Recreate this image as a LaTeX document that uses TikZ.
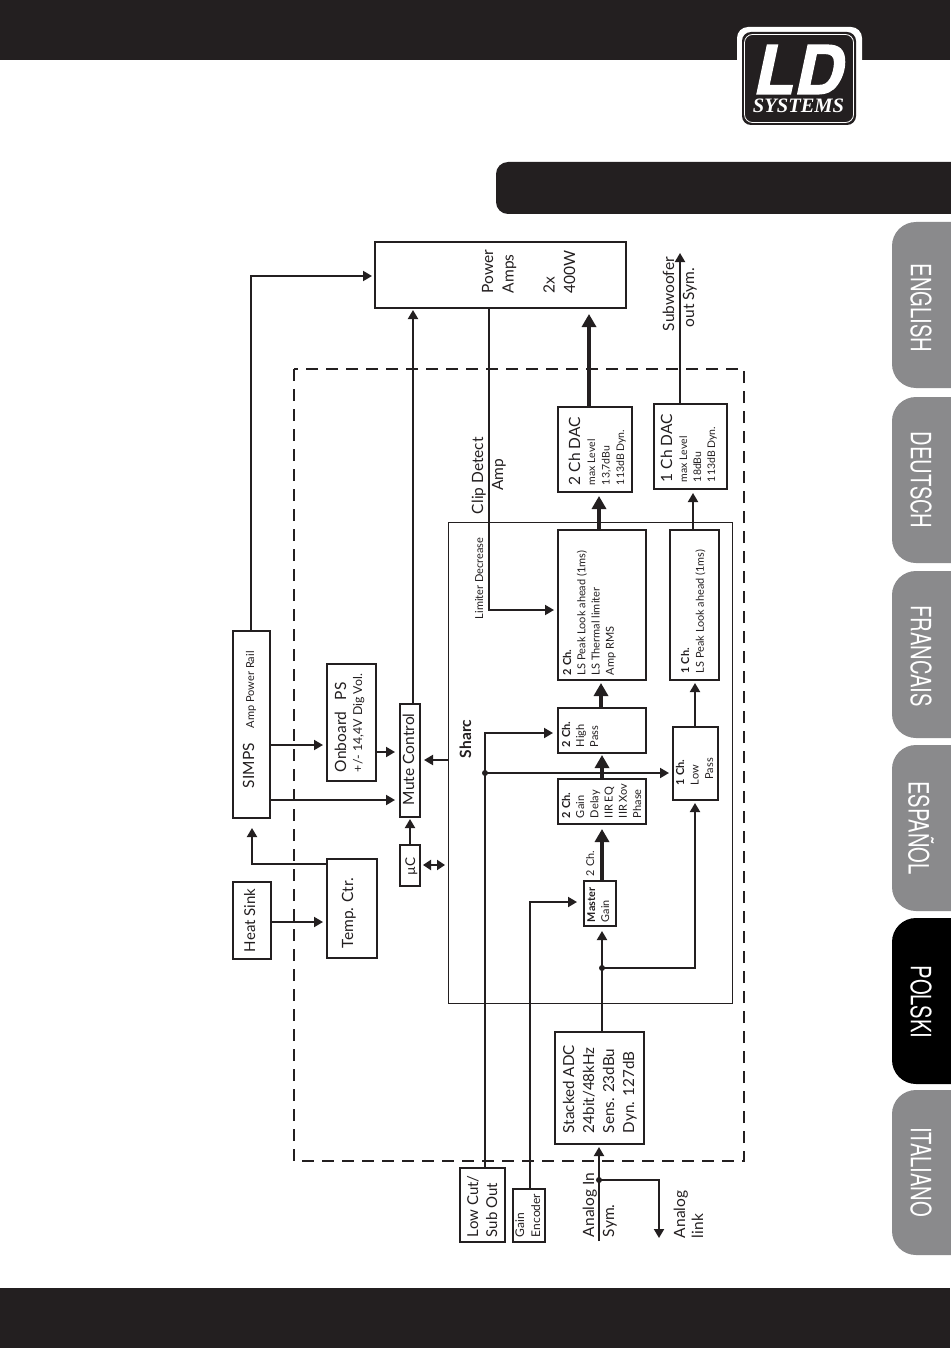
\documentclass[tikz,border=0pt]{standalone}
\usepackage{fontspec}
\setmainfont{Lato}
\newfontfamily\tabfont[FakeStretch=0.72]{TeX Gyre Heros}
\newfontfamily\logoLD[FakeBold=2]{TeX Gyre Heros}
\newfontfamily\logoSys{Liberation Serif}
\usetikzlibrary{arrows.meta}
\definecolor{ink}{HTML}{231F20}
\definecolor{tabgray}{HTML}{8A8A8C}
\tikzset{
  bx/.style={draw=ink,line width=2pt,inner sep=0pt,outer sep=0pt,fill=white},
  rtxt/.style={rotate=90,anchor=north west,inner sep=0pt,outer sep=0pt,align=left,text=ink},
  tabtxt/.style={rotate=-90,inner sep=0pt,text=white,font=\tabfont\fontsize{28}{28}\selectfont},
  conn/.style={draw=ink,line width=1.9pt,-{Triangle[length=9pt,width=10pt]}},
  fat/.style={draw=ink,line width=3.2pt,-{Triangle[length=13pt,width=14pt]}},
  plain/.style={draw=ink,line width=1.9pt},
  dotn/.style={circle,fill=ink,inner sep=0pt,minimum size=6pt},
  tabshape/.style={rounded corners=24pt,fill=tabgray}
}
\newcommand\bxn[5]{\node[bx,minimum width={(#4-#2)*1pt},minimum height={(#5-#3)*1pt}] (#1) at ({(#2+#4)/2},{(#3+#5)/2}) {};}
\newcommand\rt[6]{\node[rtxt,font=\fontsize{#4}{#5}\selectfont] (#1) at ({#2-#4},#3) {\rule{0pt}{#4pt}#6};}
\begin{document}
\begin{tikzpicture}[x=1pt,y=-1pt]
\useasboundingbox (0,0) rectangle (950,1348);
\fill[white] (0,0) rectangle (950,1348);
% bands
\fill[ink] (0,0) rectangle (950,60);
\fill[ink] (0,1288) rectangle (950,1348);
\fill[ink,rounded corners=12pt] (960,162) -- (496,162) -- (496,214) -- (960,214);
% logo
\fill[white,rounded corners=11pt] (737,27) rectangle (862,126);
\fill[ink,rounded corners=9pt] (742,32) rectangle (856,125);
\draw[white,line width=0.8pt,rounded corners=8pt] (744.5,34.5) rectangle (853.5,122.5);
\node[inner sep=0pt,text=white,font=\logoLD\bfseries\itshape\fontsize{67}{67}\selectfont] (logoa) at (799,69.5) {LD};
\node[inner sep=0pt,text=white,font=\logoSys\bfseries\itshape\fontsize{20.5}{20.5}\selectfont] (logob) at (798.5,106) {SYSTEMS};
% tabs
\path[tabshape] (960,222) -- (892,222) -- (892,388) -- (960,388);
\path[tabshape] (960,397) -- (892,397) -- (892,563) -- (960,563);
\path[tabshape] (960,571) -- (892,571) -- (892,738) -- (960,738);
\path[tabshape] (960,745) -- (892,745) -- (892,911) -- (960,911);
\path[tabshape,fill=black] (960,918) -- (892,918) -- (892,1084) -- (960,1084);
\path[tabshape] (960,1090) -- (892,1090) -- (892,1255) -- (960,1255);
\node[tabtxt] (tabEN) at (921,308) {ENGLISH};
\node[tabtxt] (tabDE) at (921,480) {DEUTSCH};
\node[tabtxt] (tabFR) at (921,656) {FRANCAIS};
\node[tabtxt] (tabES) at (921,828) {ESPAÑOL};
\node[tabtxt] (tabPL) at (921,1002) {POLSKI};
\node[tabtxt] (tabIT) at (921,1172) {ITALIANO};
% frames
\draw[ink,line width=2pt,dash pattern=on 12pt off 8pt] (294,369) rectangle (744,1161);
\node[draw=ink,line width=1pt,inner sep=0pt,outer sep=0pt,minimum width=284pt,minimum height=481pt] (sharc) at (590,762.5) {};
% boxes
\bxn{amps}{375}{242}{626}{308}
\bxn{dacb}{558}{407}{632}{492}
\bxn{daca}{654}{404}{727}{489}
\bxn{lsb}{558}{530}{646}{680}
\bxn{lsa}{670}{530}{719}{680}
\bxn{hp}{558}{708}{646}{753}
\bxn{lp}{673}{727}{718}{800}
\bxn{gainb}{558}{779}{646}{824}
\bxn{master}{584}{881}{616}{926}
\bxn{adc}{555}{1032}{644}{1144}
\bxn{lowcut}{460}{1168}{505}{1242}
\bxn{encoder}{513}{1189}{545}{1242}
\bxn{simps}{233}{631}{270}{818}
\bxn{onboard}{327}{664}{376}{781}
\bxn{mute}{400}{704}{420}{817}
\bxn{uc}{400}{845}{420}{886}
\bxn{temp}{327}{859}{377}{958}
\bxn{heat}{233}{882}{271}{959}
% junctions and free ends
\node[dotn] (jmaster) at (602,968) {};
\node[dotn] (jcut) at (485,773) {};
\node[dotn] (jin) at (599,1180) {};
\coordinate (subout) at (680,253);
\coordinate (linkout) at (659,1238);
\coordinate (inbot) at (599,1241);
% connectors
\draw[conn] (simps.north -| 251,0) -- (251,276) -- ([xshift=-3pt]amps.west |- 0,276);
\draw[conn,shorten >=2pt] (mute.north -| 413,0) -- (amps.south -| 413,0);
\draw[conn,shorten >=4pt] (amps.south -| 489,0) -- (489,610) -- (lsb.west |- 0,610);
\draw[fat,shorten >=6pt] (dacb.north -| 589,0) -- (amps.south -| 589,0);
\draw[conn] (daca.north -| 680,0) -- (subout);
\draw[fat,shorten >=4pt] (lsb.north -| 599,0) -- (dacb.south -| 599,0);
\draw[conn,shorten >=4pt] (lsa.north -| 693,0) -- (daca.south -| 693,0);
\draw[fat,shorten >=3pt] (hp.north -| 601,0) -- (lsb.south -| 601,0);
\draw[conn,shorten >=3pt] (lp.north -| 695,0) -- (lsa.south -| 695,0);
\draw[fat,shorten >=2pt] (gainb.north -| 602,0) -- (hp.south -| 602,0);
\draw[fat,shorten >=5pt] (master.north -| 602,0) -- (gainb.south -| 602,0);
\draw[conn,shorten >=5pt] (adc.north -| 602,0) -- (master.south -| 602,0);
\draw[conn,shorten >=3pt] (jmaster.center) -- (695,968) -- (lp.south -| 695,0);
\draw[conn,shorten >=5pt] (lowcut.north -| 485,0) -- (485,733) -- (hp.west |- 0,733);
\draw[conn,shorten >=4pt] (jcut.center) -- (lp.west |- 0,773);
\draw[conn,shorten >=7pt] (encoder.north -| 530,0) -- (530,902) -- (master.west |- 0,902);
\draw[conn,shorten >=3pt] (inbot) -- (adc.south -| 599,0);
\draw[conn] (jin.center) -- (659,1180) -- (linkout);
\draw[conn,shorten >=4pt] (simps.east |- 0,745) -- (onboard.west |- 0,745);
\draw[conn,shorten >=5pt] (simps.east |- 0,800) -- (mute.west |- 0,800);
\draw[conn,shorten >=5pt] (onboard.east |- 0,752) -- (mute.west |- 0,752);
\draw[conn,shorten >=4pt] (sharc.west |- 0,760) -- (mute.east |- 0,760);
\draw[conn,shorten >=2pt] (uc.north -| 410,0) -- (mute.south -| 410,0);
\draw[draw=ink,line width=1.9pt,{Triangle[length=8pt,width=10pt]}-{Triangle[length=8pt,width=10pt]},shorten <=3pt,shorten >=3pt] (uc.east |- 0,865) -- (sharc.west |- 0,865);
\draw[conn,shorten >=10pt] (temp.west |- 0,864) -- (252,864) -- (simps.south -| 252,0);
\draw[conn,shorten >=4pt] (heat.east |- 0,922) -- (temp.west |- 0,922);
% texts
\rt{tamps}{493}{293}{15.5}{20.5}{Power\\Amps\\ \\2x\\400W}
\rt{tsub}{674}{331}{15.5}{20}{Subwoofer\\\hphantom{.}out Sym.}
\rt{tclip}{483}{514}{15.5}{20}{Clip Detect\\\hspace*{1.5em}Amp}
\rt{tdacbh}{580}{485}{15.5}{15}{2 Ch DAC}
\rt{tdacbs}{595}{485}{10.5}{14.5}{max Level\\13,7dBu\\113dB Dyn.}
\rt{tdacah}{672}{482}{15.5}{15}{1 Ch DAC}
\rt{tdacas}{687}{482}{10.5}{14}{max Level\\18dBu\\113dB Dyn.}
\rt{tlim}{483}{619}{11}{12}{Limiter Decrease}
\rt{tlsb}{571}{675}{11}{14.3}{\textbf{2 Ch.}\\LS Peak Look ahead (1ms)\\LS Thermal limiter\\Amp RMS}
\rt{tlsa}{689}{673}{10.9}{14.8}{\textbf{1 Ch.}\\LS Peak Look ahead (1ms)}
\rt{tsharc}{471}{758}{15.5}{16}{\textbf{Sharc}}
\rt{thp}{570}{747}{11}{14}{\textbf{2 Ch.}\\High\\Pass}
\rt{tgainb}{570}{818}{11}{14.2}{\textbf{2 Ch.}\\Gain\\Delay\\IIR EQ\\IIR Xov\\Phase}
\rt{tlp}{684}{785}{11}{14.6}{\textbf{1 Ch.}\\Low\\\hspace*{.5em}Pass}
\rt{ttwo}{594}{876}{10.8}{12}{2 Ch.}
\rt{tmaster}{595}{922}{10.8}{14}{\textbf{Master}\\Gain}
\rt{tadc}{574}{1133}{15.2}{20}{Stacked ADC\\24bit/48kHz\\Sens. 23dBu\\Dyn. 127dB}
\rt{tcut}{478}{1237}{15}{19}{Low Cut/\\Sub Out}
\rt{tenc}{524}{1237}{12}{16}{Gain\\Encoder}
\rt{tain}{594}{1237}{15.5}{20}{Analog In\\Sym.}
\rt{tlink}{685}{1238}{15.5}{18}{Analog\\link}
\rt{tsimps}{254}{788}{15.5}{18}{SIMPS}
\rt{trail}{254}{728}{11}{12}{Amp Power Rail}
\rt{tobh}{346}{772}{15.5}{16}{Onboard\hspace{.5em} PS}
\rt{tobs}{362}{772}{12.3}{14}{+/- 14,4V Dig Vol.}
\rt{tmute}{414}{805}{15.5}{16}{Mute Control}
\rt{tuc}{415}{875}{13.5}{16}{µC}
\rt{ttemp}{353}{948}{15.5}{16}{Temp. Ctr.}
\rt{theat}{255}{952}{15}{16}{Heat Sink}
\end{tikzpicture}
\end{document}
